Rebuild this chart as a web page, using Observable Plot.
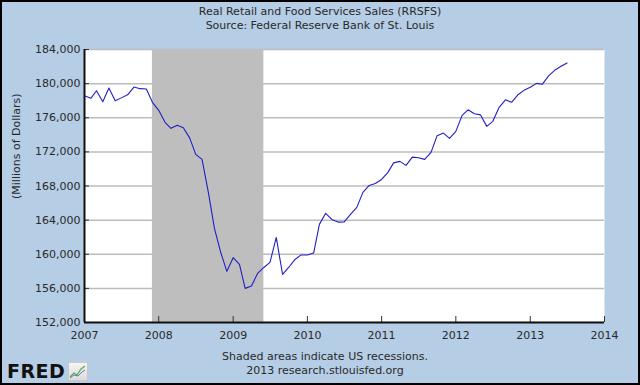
<!DOCTYPE html>
<html>
<head>
<meta charset="utf-8">
<script src="https://cdn.jsdelivr.net/npm/d3@7"></script>
<script src="https://cdn.jsdelivr.net/npm/@observablehq/plot@0.6"></script>
<style>
  html, body { margin: 0; padding: 0; background: #b5cde5; }
  #chart {
    width: 640px; height: 385px; box-sizing: border-box;
    border: 2px solid #000; background: #b5cde5;
    font-family: "DejaVu Sans", sans-serif; color: #2a2a2a;
    position: relative; overflow: hidden;
  }
  #title { height: 38px; box-sizing: border-box; padding-top: 3px; text-align: center; font-size: 11px; line-height: 14px; }
  #plot { height: 305px; }
  #plot svg { display: block; }
  #caption { height: 36px; box-sizing: border-box; padding-top: 5px; padding-left: 10px; text-align: center; font-size: 11px; line-height: 14px; }
  #logo { position: absolute; left: 5px; bottom: 2px; display: flex; align-items: flex-end; }
  #logo .fred { font-family: "DejaVu Sans", sans-serif; font-weight: bold; font-size: 19px; color: #111; line-height: 20px; letter-spacing: 0.5px; }
  #logo .icon { width: 20px; height: 19px; margin-left: 3px; background: linear-gradient(#f4f4f4, #dcdcdc); border: 1px solid #c8c8c8; box-sizing: border-box; }
</style>
</head>
<body>
<div id="chart">
  <div id="title"></div>
  <div id="plot"></div>
  <div id="caption"></div>
  <div id="logo"><span class="fred">FRED</span><div class="icon"><svg width="18" height="17" viewBox="0 0 18 17"><path d="M1 14 L5 10 L8 12 L12 6 L16 3" fill="none" stroke="#6aa84f" stroke-width="1.3"/><path d="M1 15 L5 12 L9 13 L13 9 L16 7" fill="none" stroke="#4f7fc0" stroke-width="1"/></svg></div></div>
</div>
<script>
// ---- Text ----
const titleLines = ["Real Retail and Food Services Sales (RRSFS)", "Source: Federal Reserve Bank of St. Louis"];
const captionLines = ["Shaded areas indicate US recessions.", "2013 research.stlouisfed.org"];
const yLabel = "(Millions of Dollars)";

// ---- Axes ----
const yTicks = [152000, 156000, 160000, 164000, 168000, 172000, 176000, 180000, 184000];
const yDomain = [152000, 184000];
const xTickYears = [2007, 2008, 2009, 2010, 2011, 2012, 2013, 2014];
const xDomainYears = [2007, 2014];

// ---- Recession (start, end) ----
const recessionStart = ["2007-12-01"];
const recessionEnd = ["2009-06-01"];

// ---- Monthly values (millions of dollars), starting Jan 2007 ----
const firstMonth = "2007-01-01";
const values2007 = [178570, 178280, 179160, 177870, 179480, 177980, 178330, 178690, 179600, 179410, 179370, 177810];
const values2008 = [176870, 175460, 174760, 175110, 174820, 173640, 171710, 171120, 167250, 163030, 160200, 158000];
const values2009 = [159600, 158800, 156000, 156280, 157750, 158450, 159040, 161970, 157630, 158450, 159390, 159920];
const values2010 = [159920, 160150, 163500, 164800, 164080, 163770, 163790, 164670, 165490, 167250, 168070, 168300];
const values2011 = [168770, 169600, 170710, 170890, 170420, 171390, 171320, 171120, 171940, 173900, 174200, 173580];
const values2012 = [174400, 176280, 176930, 176460, 176340, 174990, 175580, 177220, 178100, 177810, 178690, 179210];
const values2013 = [179570, 180030, 179920, 180910, 181560, 182030, 182420];

// ---- Build tables ----
const allValues = [...values2007, ...values2008, ...values2009, ...values2010, ...values2011, ...values2012, ...values2013];
const start = new Date(firstMonth + "T00:00:00Z");
const series = allValues.map((v, i) => ({ date: d3.utcMonth.offset(start, i), value: v }));
const recessions = recessionStart.map((s, i) => ({ start: new Date(s + "T00:00:00Z"), end: new Date(recessionEnd[i] + "T00:00:00Z") }));
const yearDate = (y) => new Date(Date.UTC(y, 0, 1));
const xTicks = xTickYears.map(yearDate);
const xDomain = xDomainYears.map(yearDate);

document.getElementById("title").innerHTML = titleLines.map(t => `<div>${t}</div>`).join("");
document.getElementById("caption").innerHTML = captionLines.map(t => `<div>${t}</div>`).join("");

const W = 636, H = 305, mL = 82, mR = 34, mT = 9, mB = 23;

const chart = Plot.plot({
  width: W, height: H,
  marginLeft: mL, marginRight: mR, marginTop: mT, marginBottom: mB,
  style: { background: "transparent", fontFamily: "DejaVu Sans, sans-serif", fontSize: "11px", color: "#2a2a2a" },
  x: { type: "utc", domain: xDomain },
  y: { domain: yDomain },
  marks: [
    Plot.frame({ fill: "white", stroke: "none" }),
    Plot.gridY(yTicks, { stroke: "#bcbcbc", strokeOpacity: 1, strokeWidth: 1.5 }),
    Plot.rect(recessions, { x1: "start", x2: "end", y1: yDomain[0], y2: yDomain[1], fill: "#bebebe" }),
    Plot.lineY(series, { x: "date", y: "value", stroke: "#2020c4", strokeWidth: 1.1 }),
    Plot.tickY(yTicks, { y: d => d, insetRight: (W - mL - mR) - 5, stroke: "#333" }),
    Plot.tickX(xTicks, { x: d => d, insetTop: (H - mT - mB) - 6, stroke: "#333" }),
    Plot.ruleX([xDomain[0]], { stroke: "#111", strokeWidth: 2 }),
    Plot.ruleY([yDomain[0]], { stroke: "#111", strokeWidth: 2 }),
    Plot.axisY(yTicks, { tickSize: 0, tickPadding: 4, tickFormat: d3.format(","), label: null }),
    Plot.axisX(xTicks, { tickSize: 0, tickPadding: 9, tickFormat: d3.utcFormat("%Y"), label: null }),
    Plot.text([yLabel], { text: d => d, frameAnchor: "left", rotate: -90, dx: -68, dy: 13, fontSize: 11 })
  ]
});
document.getElementById("plot").appendChild(chart);
</script>
</body>
</html>
